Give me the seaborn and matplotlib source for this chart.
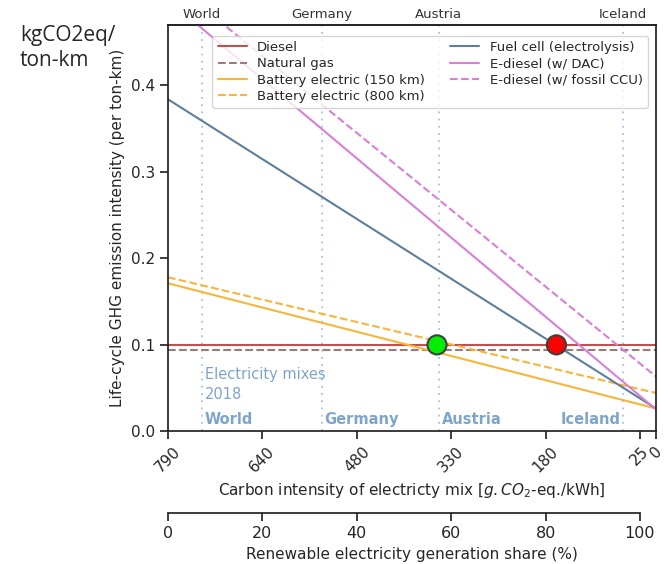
"""
Life-cycle GHG intensity of truck powertrains vs. electricity mix carbon intensity.
Saves out.png
"""

import matplotlib
matplotlib.use("Agg")
import matplotlib.pyplot as plt
import seaborn as sns

# ── data (x = renewable electricity share, %) ──────────────
X_SHARE = [0.0, 103.4]          # 0 % renewable ... 0 g/kWh
DIESEL = [0.099, 0.099]
NATURAL_GAS = [0.094, 0.094]
BEV_150 = [0.171, 0.026]
BEV_800 = [0.178, 0.044]
FUEL_CELL = [0.384, 0.026]
EDIESEL_DAC = [0.499, 0.025]
EDIESEL_CCU = [0.523, 0.063]

CI_TICKS = [0, 20, 40, 60, 80, 100, 103.4]
CI_LABELS = ["790", "640", "480", "330", "180", "25", "0"]
SHARE_TICKS = [0, 20, 40, 60, 80, 100]

MIX_NAMES = ["World", "Germany", "Austria", "Iceland"]
MIX_SHARE = [7.2, 32.6, 57.4, 96.4]

BREAKEVEN_X = [57.0, 82.3]
BREAKEVEN_Y = [0.0997, 0.0997]

SERIES = [
    ("Diesel", DIESEL, "#c0504d", "-"),
    ("Natural gas", NATURAL_GAS, "#9c7b76", "--"),
    ("Battery electric (150 km)", BEV_150, "#f7b53b", "-"),
    ("Battery electric (800 km)", BEV_800, "#f7b53b", "--"),
    ("Fuel cell (electrolysis)", FUEL_CELL, "#5d7f9e", "-"),
    ("E-diesel (w/ DAC)", EDIESEL_DAC, "#d97fd6", "-"),
    ("E-diesel (w/ fossil CCU)", EDIESEL_CCU, "#d97fd6", "--"),
]
MIX_COLOR = "#a3c4e0"
MIX_TEXT = "#7da5cc"

sns.set_theme(style="ticks")
plt.rcParams["font.family"] = ["DejaVu Sans"]

fig = plt.figure(figsize=(6.7, 5.64), dpi=100)
ax = fig.add_axes([168 / 670, 133 / 564, 488 / 670, 406 / 564])

for label, vals, color, ls in SERIES:
    sns.lineplot(x=X_SHARE, y=vals, ax=ax, color=color, linestyle=ls,
                 linewidth=1.5, label=label)

for xs in MIX_SHARE:
    ax.axvline(xs, color=MIX_COLOR, linestyle=(0, (1, 3)), linewidth=1.3, zorder=0)

sns.scatterplot(x=BREAKEVEN_X, y=BREAKEVEN_Y, hue=["a", "b"],
                palette=["#00ee00", "#ff0000"], legend=False, s=190,
                edgecolor="#404040", linewidth=1.5, zorder=6, ax=ax)

# electricity-mix annotations
ax.text(7.8, 0.065, "Electricity mixes", color=MIX_TEXT, fontsize=10.5, va="center")
ax.text(7.8, 0.042, "2018", color=MIX_TEXT, fontsize=10.5, va="center")
for name, xs in zip(MIX_NAMES, MIX_SHARE):
    if name == "Iceland":
        ax.text(xs - 0.6, 0.013, name, color=MIX_TEXT, fontsize=10.5,
                fontweight="bold", ha="right", va="center")
    else:
        ax.text(xs + 0.6, 0.013, name, color=MIX_TEXT, fontsize=10.5,
                fontweight="bold", ha="left", va="center")

ax.set_xlim(X_SHARE[0], X_SHARE[-1])
ax.set_ylim(0, 0.47)
ax.set_yticks([0.0, 0.1, 0.2, 0.3, 0.4])
ax.set_xticks(CI_TICKS)
ax.set_xticklabels(CI_LABELS, rotation=45, fontsize=11)
ax.tick_params(axis="y", labelsize=11)
ax.set_ylabel("Life-cycle GHG emission intensity (per ton-km)", fontsize=11)
ax.set_xlabel("Carbon intensity of electricty mix [$g.CO_2$-eq./kWh]", fontsize=11)
for sp in ax.spines.values():
    sp.set_color("#222222")

ax.legend(ncol=2, loc="upper right", fontsize=9.5, frameon=True,
          bbox_to_anchor=(0.997, 0.99), handlelength=2.2, columnspacing=1.9,
          borderpad=0.4, labelspacing=0.25)

# country names along the top
top = ax.secondary_xaxis("top")
top.set_xticks(MIX_SHARE)
top.set_xticklabels(MIX_NAMES, fontsize=9.5, color="#333333")
top.tick_params(length=0, pad=3)

# renewable share axis below
ax2 = ax.twiny()
ax2.set_xlim(X_SHARE[0], X_SHARE[-1])
ax2.xaxis.set_ticks_position("bottom")
ax2.xaxis.set_label_position("bottom")
ax2.spines["bottom"].set_position(("outward", 59))
ax2.spines["bottom"].set_bounds(0, 100)
ax2.spines["bottom"].set_color("#222222")
for s in ("top", "left", "right"):
    ax2.spines[s].set_visible(False)
ax2.set_xticks(SHARE_TICKS)
ax2.set_xticklabels([str(t) for t in SHARE_TICKS], fontsize=11.5)
ax2.set_xlabel("Renewable electricity generation share (%)", fontsize=11)

fig.text(20 / 670, 1 - 48 / 564, "kgCO2eq/\nton-km", fontsize=15,
         family=["Open Sans", "DejaVu Sans"], ha="left", va="center",
         linespacing=1.3)

fig.savefig("out.png", dpi=100)
plt.close(fig)
